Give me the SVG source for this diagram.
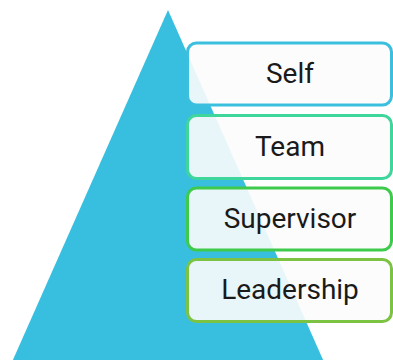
<svg xmlns="http://www.w3.org/2000/svg" width="393" height="360" viewBox="0 0 393 360">
  <style>
    .box { fill: #fcfcfc; fill-opacity: 0.9; stroke-width: 3; }
    .label { font-family: Roboto, "Liberation Sans", sans-serif; font-size: 28px; fill: #1a1a1a; text-anchor: middle; }
  </style>
  <rect width="393" height="360" fill="#ffffff"/>
  <!-- pyramid background -->
  <polygon id="pyramid" points="168,10 324,362 12,362" fill="#38bfe0"/>
  <g id="self">
    <rect class="box" x="187.5" y="43" width="204" height="62" rx="9" stroke="#3abfdf"/>
    <text class="label" x="290" y="83">Self</text>
  </g>
  <g id="team">
    <rect class="box" x="187.5" y="115.5" width="204" height="63" rx="9" stroke="#3ed69a"/>
    <text class="label" x="290" y="156">Team</text>
  </g>
  <g id="supervisor">
    <rect class="box" x="187.5" y="188" width="204" height="62" rx="9" stroke="#3ecb4c"/>
    <text class="label" x="290" y="228">Supervisor</text>
  </g>
  <g id="leadership">
    <rect class="box" x="187.5" y="259.5" width="204" height="62" rx="9" stroke="#7cc344"/>
    <text class="label" x="290" y="299">Leadership</text>
  </g>
</svg>
